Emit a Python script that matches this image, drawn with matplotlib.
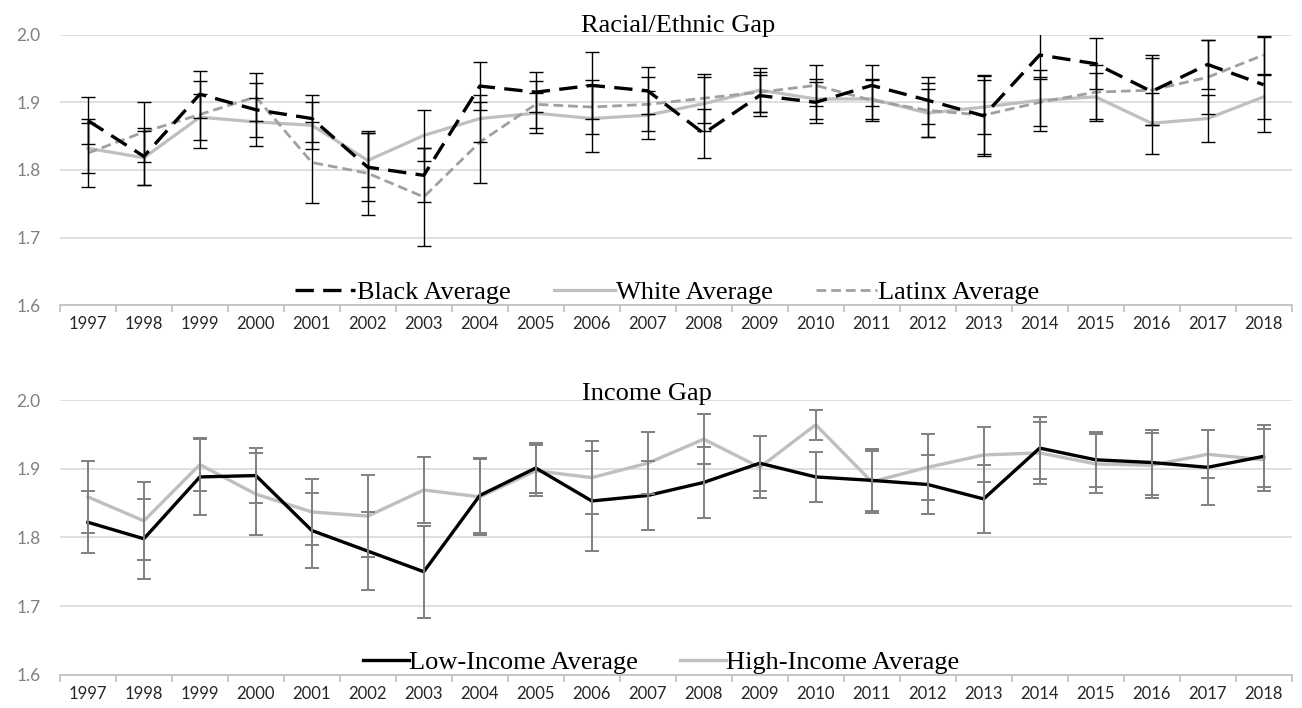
import matplotlib.pyplot as plt

# years shown on both panels
years = [str(y) for y in range(1997, 2019)]

# Racial/Ethnic gap: series means and error half-widths
black_avg = [1.873, 1.820, 1.912, 1.889, 1.876, 1.804, 1.792, 1.924, 1.915, 1.925, 1.917,
             1.854, 1.910, 1.900, 1.925, 1.903, 1.880, 1.970, 1.957, 1.916, 1.956, 1.926]
black_err = [0.035, 0.042, 0.035, 0.040, 0.035, 0.050, 0.040, 0.035, 0.030, 0.050, 0.035,
             0.036, 0.030, 0.030, 0.030, 0.035, 0.060, 0.032, 0.038, 0.050, 0.036, 0.070]
white_avg = [1.832, 1.818, 1.878, 1.871, 1.866, 1.814, 1.851, 1.876, 1.884, 1.876, 1.881,
             1.898, 1.918, 1.905, 1.905, 1.884, 1.893, 1.903, 1.908, 1.869, 1.876, 1.908]
white_err = [0.037, 0.040, 0.034, 0.035, 0.035, 0.040, 0.038, 0.035, 0.030, 0.050, 0.035,
             0.040, 0.032, 0.030, 0.030, 0.035, 0.040, 0.045, 0.036, 0.045, 0.035, 0.032]
latinx_avg = [1.825, 1.856, 1.882, 1.908, 1.811, 1.795, 1.760, 1.841, 1.897, 1.893, 1.897,
              1.906, 1.915, 1.925, 1.903, 1.888, 1.881, 1.900, 1.915, 1.918, 1.937, 1.970]
latinx_err = [0.050, 0.045, 0.050, 0.036, 0.060, 0.062, 0.072, 0.060, 0.035, 0.040, 0.040,
              0.036, 0.030, 0.030, 0.030, 0.040, 0.058, 0.035, 0.040, 0.052, 0.055, 0.028]

# Income gap: series means and error half-widths
low_avg = [1.822, 1.798, 1.888, 1.890, 1.810, 1.780, 1.750, 1.861, 1.901, 1.853, 1.861,
           1.880, 1.908, 1.888, 1.883, 1.877, 1.856, 1.930, 1.913, 1.909, 1.902, 1.918]
low_err = [0.045, 0.058, 0.055, 0.040, 0.054, 0.057, 0.067, 0.055, 0.037, 0.073, 0.050,
           0.052, 0.040, 0.036, 0.045, 0.043, 0.050, 0.045, 0.040, 0.047, 0.055, 0.045]
high_avg = [1.859, 1.824, 1.906, 1.863, 1.837, 1.831, 1.869, 1.859, 1.897, 1.887, 1.908,
            1.943, 1.902, 1.964, 1.881, 1.902, 1.920, 1.923, 1.907, 1.905, 1.921, 1.913]
high_err = [0.052, 0.057, 0.038, 0.060, 0.048, 0.060, 0.048, 0.055, 0.037, 0.053, 0.045,
            0.036, 0.045, 0.022, 0.045, 0.048, 0.040, 0.045, 0.043, 0.047, 0.035, 0.045]

x = list(range(len(years)))
serif = 'Liberation Serif'

fig = plt.figure(figsize=(13.02, 7.08), dpi=100)
ax1 = fig.add_axes([0.046, 0.569, 0.946, 0.382])
ax2 = fig.add_axes([0.046, 0.047, 0.946, 0.388])


def style_axis(ax):
    ax.set_xlim(-0.5, len(years) - 0.5)
    ax.set_ylim(1.6, 2.0)
    ax.set_yticks([1.6, 1.7, 1.8, 1.9, 2.0])
    ax.set_yticklabels(['1.6', '1.7', '1.8', '1.9', '2.0'])
    ax.yaxis.grid(True, color='#d9d9d9', linewidth=1.2)
    ax.set_axisbelow(True)
    for side in ['top', 'right', 'left']:
        ax.spines[side].set_visible(False)
    ax.spines['bottom'].set_color('#bfbfbf')
    ax.spines['bottom'].set_linewidth(1.2)
    ax.tick_params(axis='y', length=0, labelsize=12.5, labelcolor='#808080', pad=14)
    # tick marks between categories, labels in the middle
    ax.set_xticks([i - 0.5 for i in range(len(years) + 1)])
    ax.set_xticklabels([])
    ax.set_xticks(x, minor=True)
    ax.set_xticklabels(years, minor=True)
    ax.tick_params(axis='x', which='major', length=5, color='#bfbfbf', width=1.2)
    ax.tick_params(axis='x', which='minor', length=0, labelsize=12, labelcolor='#262626', pad=8)
    for lab in ax.get_yticklabels() + ax.get_xticklabels(minor=True):
        lab.set_family('Lato')


style_axis(ax1)
style_axis(ax2)

# top panel
ax1.plot(x, white_avg, color='#bfbfbf', linewidth=2.3, label='White Average', zorder=2)
ax1.plot(x, latinx_avg, color='#a0a0a0', linewidth=2.0, dashes=(3.5, 1.8),
         label='Latinx Average', zorder=2)
ax1.plot(x, black_avg, color='black', linewidth=2.4, dashes=(5.5, 2.8),
         label='Black Average', zorder=3)
for vals, errs in [(black_avg, black_err), (white_avg, white_err), (latinx_avg, latinx_err)]:
    ax1.errorbar(x, vals, yerr=errs, fmt='none', ecolor='black', elinewidth=1.0,
                 capsize=5, capthick=1.0, zorder=4)

handles, labels = ax1.get_legend_handles_labels()
order = [2, 0, 1]
ax1.legend([handles[i] for i in order], [labels[i] for i in order],
           loc='lower center', bbox_to_anchor=(0.493, -0.085), ncol=3, frameon=False,
           prop={'family': serif, 'size': 19}, handlelength=2.3, handletextpad=0.05,
           columnspacing=1.65)
ax1.text(0.502, 1.01, 'Racial/Ethnic Gap', transform=ax1.transAxes, ha='center',
         va='baseline', family=serif, fontsize=19)

# bottom panel
ax2.plot(x, low_avg, color='black', linewidth=2.4, label='Low-Income Average', zorder=3)
ax2.plot(x, high_avg, color='#bfbfbf', linewidth=2.4, label='High-Income Average', zorder=2)
for vals, errs in [(low_avg, low_err), (high_avg, high_err)]:
    ax2.errorbar(x, vals, yerr=errs, fmt='none', ecolor='#808080', elinewidth=1.4,
                 capsize=5, capthick=1.4, zorder=4)
ax2.legend(loc='lower center', bbox_to_anchor=(0.488, -0.085), ncol=2, frameon=False,
           prop={'family': serif, 'size': 19}, handlelength=1.75, handletextpad=0.0,
           columnspacing=1.6)
ax2.text(0.477, 1.0, 'Income Gap', transform=ax2.transAxes, ha='center',
         va='baseline', family=serif, fontsize=19)

plt.savefig('out.png', dpi=100)
plt.close()
